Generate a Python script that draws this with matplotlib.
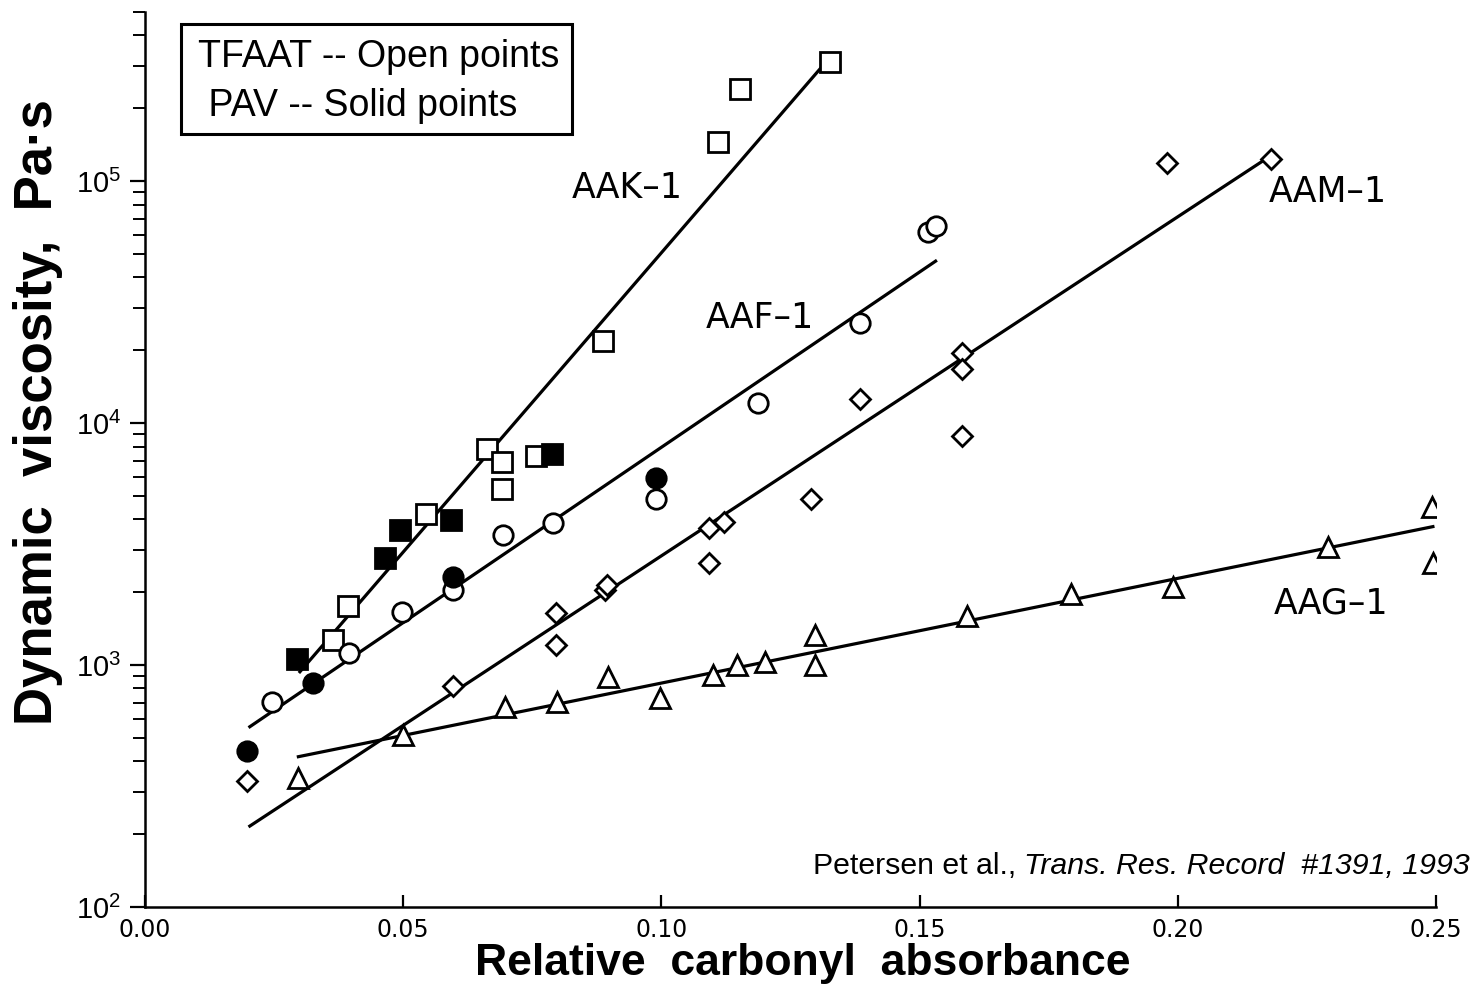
import numpy as np
import matplotlib
matplotlib.use("Agg")
import matplotlib.pyplot as plt
from matplotlib import font_manager as fm
from matplotlib.ticker import LogLocator, FixedLocator, NullFormatter
from matplotlib.patches import Rectangle

# ---------------- data ----------------
# AAK-1 (squares)
aak_open_x = [0.0364, 0.0393, 0.0545, 0.0663, 0.0692, 0.0692, 0.0758, 0.0886, 0.1110, 0.1153, 0.1326]
aak_open_y = [1274, 1758, 4226, 7851, 6934, 5357, 7276, 21770, 145000, 240000, 310000]
aak_solid_x = [0.0295, 0.0465, 0.0494, 0.0593, 0.0789]
aak_solid_y = [1061, 2781, 3630, 3993, 7480]
aak_fit_x = [0.0300, 0.1320]
aak_fit_y = [938, 313000]

# AAF-1 (circles)
aaf_open_x = [0.0246, 0.0395, 0.0498, 0.0597, 0.0694, 0.0791, 0.0990, 0.1188, 0.1384, 0.1517, 0.1531]
aaf_open_y = [705, 1125, 1660, 2051, 3459, 3847, 4876, 12160, 25830, 61500, 65000]
aaf_solid_x = [0.0198, 0.0326, 0.0597, 0.0990]
aaf_solid_y = [442, 845, 2318, 5957]
aaf_fit_x = [0.0203, 0.1531]
aaf_fit_y = [556, 46700]

# AAM-1 (diamonds, open only)
aam_x = [0.0198, 0.0597, 0.0795, 0.0795, 0.0891, 0.0895, 0.1093, 0.1093, 0.1122, 0.1289,
         0.1384, 0.1583, 0.1583, 0.1583, 0.1979, 0.2180]
aam_y = [332, 821, 1213, 1644, 2051, 2150, 2650, 3698, 3919, 4876,
         12530, 19410, 16680, 8810, 118600, 123300]
aam_fit_x = [0.0203, 0.2176]
aam_fit_y = [216, 125700]

# AAG-1 (triangles, open only)
aag_x = [0.0297, 0.0500, 0.0698, 0.0798, 0.0897, 0.0998, 0.1099, 0.1147, 0.1200, 0.1298,
         0.1298, 0.1591, 0.1793, 0.1990, 0.2290, 0.2492, 0.2494]
aag_y = [342, 515, 671, 705, 895, 733, 912, 1002, 1032, 1002,
         1334, 1600, 1973, 2110, 3083, 4479, 2650]
aag_fit_x = [0.0297, 0.2494]
aag_fit_y = [418, 3733]

x_ticks = [0.00, 0.05, 0.10, 0.15, 0.20, 0.25]
x_tick_labels = ["0.00", "0.05", "0.10", "0.15", "0.20", "0.25"]
y_ticks = [1e2, 1e3, 1e4, 1e5]
y_tick_labels = [r"$10^{2}$", r"$10^{3}$", r"$10^{4}$", r"$10^{5}$"]

line_labels = ["AAK\u20131", "AAF\u20131", "AAM\u20131", "AAG\u20131"]
legend_lines = ["TFAAT -- Open points", " PAV -- Solid points"]
xlabel = "Relative  carbonyl  absorbance"
ylabel = "Dynamic  viscosity,  Pa\u00b7s"
cite_plain = "Petersen et al., "
cite_italic = "Trans. Res. Record  #1391, 1993"

# ---------------- fonts ----------------
HELV = "Liberation Sans"
ROUND = "DejaVu Sans"

plt.rcParams["mathtext.fontset"] = "custom"
plt.rcParams["mathtext.rm"] = HELV
plt.rcParams["mathtext.it"] = HELV + ":italic"
plt.rcParams["mathtext.bf"] = HELV + ":bold"

W, H = 1476, 991
fig = plt.figure(figsize=(W / 100, H / 100), dpi=100)
fig.patch.set_facecolor("white")

def fx(px):
    return px / W

def fy(py):
    return 1 - py / H

ax_left, ax_right, ax_top, ax_bottom = 145, 1436, 12, 907
ax = fig.add_axes([fx(ax_left), fy(ax_bottom), (ax_right - ax_left) / W, (ax_bottom - ax_top) / H])
ax.set_xlim(0, 0.25)
ax.set_yscale("log")
ax.set_ylim(1e2, 5e5)

for s in ["top", "right"]:
    ax.spines[s].set_visible(False)
for s in ["left", "bottom"]:
    ax.spines[s].set_linewidth(1.8)

ax.xaxis.set_major_locator(FixedLocator(x_ticks))
ax.set_xticklabels(x_tick_labels, fontfamily=ROUND, fontsize=17)
ax.tick_params(axis="x", direction="in", length=9, width=1.6, pad=8)

ax.yaxis.set_major_locator(FixedLocator(y_ticks))
ax.set_yticklabels(y_tick_labels, fontsize=21)
ax.yaxis.set_minor_locator(LogLocator(base=10, subs=np.arange(2, 10)))
ax.yaxis.set_minor_formatter(NullFormatter())
ax.tick_params(axis="y", which="major", direction="out", length=11, width=1.6, pad=6)
ax.tick_params(axis="y", which="minor", direction="out", length=9, width=1.4)

lw = 2.3
mew = 2.0
k = "black"
# fit lines
ax.plot(aak_fit_x, aak_fit_y, color=k, lw=lw)
ax.plot(aaf_fit_x, aaf_fit_y, color=k, lw=lw)
ax.plot(aam_fit_x, aam_fit_y, color=k, lw=lw)
ax.plot(aag_fit_x, aag_fit_y, color=k, lw=lw)

# points
ax.plot(aak_open_x, aak_open_y, ls="none", marker="s", ms=14, mfc="white", mec=k, mew=mew)
ax.plot(aak_solid_x, aak_solid_y, ls="none", marker="s", ms=15, mfc=k, mec=k, mew=mew)
ax.plot(aaf_open_x, aaf_open_y, ls="none", marker="o", ms=14, mfc="white", mec=k, mew=mew)
ax.plot(aaf_solid_x, aaf_solid_y, ls="none", marker="o", ms=14, mfc=k, mec=k, mew=mew)
ax.plot(aam_x, aam_y, ls="none", marker="D", ms=10, mfc="white", mec=k, mew=mew)
ax.plot(aag_x, aag_y, ls="none", marker="^", ms=14, mfc="white", mec=k, mew=mew)

# line labels
label_pos = [(627, 188), (760, 318), (1328, 192), (1331, 603)]
for t, (px, py) in zip(line_labels, label_pos):
    fig.text(fx(px), fy(py), t, fontfamily=ROUND, fontsize=25, ha="center", va="center")

# legend box
fig.patches.append(Rectangle((fx(181), fy(134)), fx(572) - fx(181), fy(24) - fy(134),
                             transform=fig.transFigure, fill=True, facecolor="white",
                             edgecolor=k, lw=2.2, zorder=5))
fig.text(fx(198), fy(57), legend_lines[0], fontfamily=HELV, fontsize=27, ha="left", va="center", zorder=6)
fig.text(fx(198), fy(106), legend_lines[1], fontfamily=HELV, fontsize=27, ha="left", va="center", zorder=6)

# axis labels
fig.text(fx(803), fy(963), xlabel, fontfamily=HELV, fontweight="bold", fontsize=32,
         ha="center", va="center")
fig.text(fx(38), fy(412), ylabel, fontfamily=HELV, fontweight="bold", fontsize=38,
         ha="center", va="center", rotation=90)

# citation (plain + italic)
fig.canvas.draw()
renderer = fig.canvas.get_renderer()
t_it = fig.text(fx(1470), fy(866), cite_italic, fontfamily=HELV, style="italic", fontsize=21.8,
                ha="right", va="center")
bb = t_it.get_window_extent(renderer)
fig.text(bb.x0 / W, fy(866), cite_plain, fontfamily=HELV, fontsize=21.8, ha="right", va="center")

fig.savefig("out.png", dpi=100, facecolor="white")
